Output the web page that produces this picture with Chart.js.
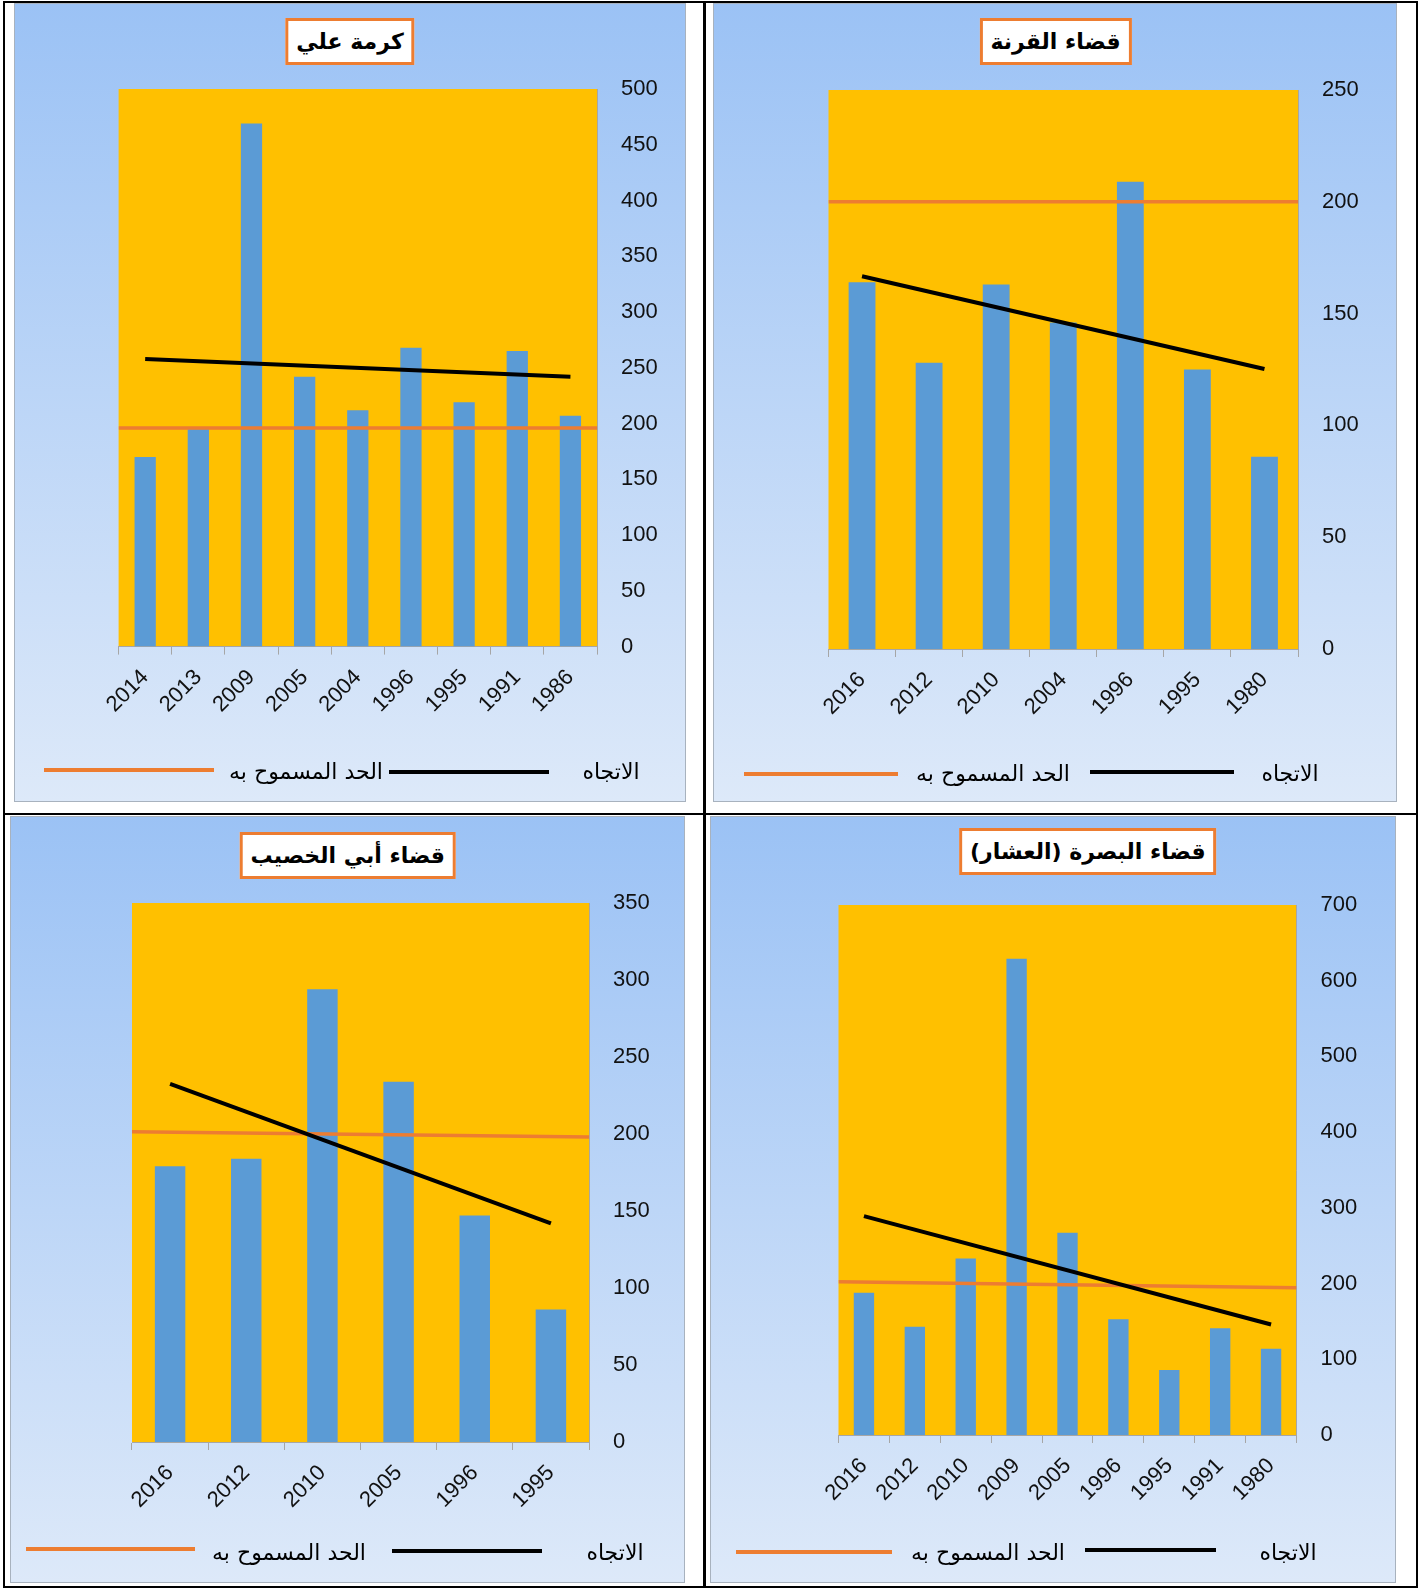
<!DOCTYPE html>
<html lang="ar">
<head>
<meta charset="utf-8">
<title>تراكيز الموقع حسب السنوات</title>
<script src="https://cdn.jsdelivr.net/npm/chart.js@4.4.1/dist/chart.umd.min.js"></script>
<style>
    html, body { margin: 0; padding: 0; background: #fff; }
    body { width: 1424px; height: 1589px; position: relative; overflow: hidden; }
    .rule { position: absolute; background: #000; }
    .panel {
        position: absolute;
        background: linear-gradient(180deg, #9bc2f5 0%, #dde9f9 100%);
        box-shadow: inset 0 0 0 1px #a8b2be;
    }
    .panel canvas { position: absolute; left: 0; top: 0; }
    .chart-title {
        position: absolute;
        box-sizing: border-box;
        height: 47px;
        padding: 0 8px;
        border: 3px solid #ed7d31;
        background: #fff;
        font: bold 22px 'DejaVu Sans', sans-serif;
        color: #000;
        display: flex;
        align-items: center;
        justify-content: center;
        white-space: nowrap;
        transform: translateX(-50%);
    }
    .key-line { position: absolute; height: 4px; }
    .key-text {
        position: absolute;
        font: 22px 'DejaVu Sans', sans-serif;
        color: #000;
        white-space: nowrap;
        transform: translate(-50%, -50%);
    }
</style>
</head>
<body>
<div class="rule" style="left:3px; top:1px; width:1415px; height:2px;"></div>
<div class="rule" style="left:3px; top:1586px; width:1415px; height:2px;"></div>
<div class="rule" style="left:3px; top:1px; width:2px; height:1587px;"></div>
<div class="rule" style="left:1416px; top:1px; width:2px; height:1587px;"></div>
<div class="rule" style="left:703px; top:1px; width:3px; height:1587px;"></div>
<div class="rule" style="left:3px; top:813px; width:1415px; height:2px;"></div>

<script>
// كرمة علي
const karmaYears = ['2014', '2013', '2009', '2005', '2004', '1996', '1995', '1991', '1986'];
const karmaValues = [170, 195, 469, 242, 212, 268, 219, 265, 207];
const karmaTrend = [258, 242];
const karmaLimit = [196, 196];
const karmaTicks = { max: 500, step: 50 };

// قضاء القرنة
const qurnaYears = ['2016', '2012', '2010', '2004', '1996', '1995', '1980'];
const qurnaValues = [164, 128, 163, 146, 209, 125, 86];
const qurnaTrend = [166.7, 125.2];
const qurnaLimit = [200, 200];
const qurnaTicks = { max: 250, step: 50 };

// قضاء أبي الخصيب
const khasibYears = ['2016', '2012', '2010', '2005', '1996', '1995'];
const khasibValues = [179, 184, 294, 234, 147, 86];
const khasibTrend = [232.5, 142];
const khasibLimit = [201.5, 198];
const khasibTicks = { max: 350, step: 50 };

// قضاء البصرة (العشار)
const basraYears = ['2016', '2012', '2010', '2009', '2005', '1996', '1995', '1991', '1980'];
const basraValues = [188, 143, 233, 629, 267, 153, 86, 141, 114];
const basraTrend = [289, 146];
const basraLimit = [202.5, 194.5];
const basraTicks = { max: 700, step: 100 };

const trendLabel = 'الاتجاه';
const limitLabel = 'الحد المسموح به';

const BAR_COLOR = '#5b9bd5';
const LIMIT_COLOR = '#ed7d31';
const PLOT_COLOR = '#ffc000';
const AXIS_COLOR = '#a6a6a6';
const tickFont = { family: "'Liberation Sans', Arial, sans-serif", size: 22 };

// box = panel [left, top, width, height]; plot = plot area inside the panel [left, top, right, bottom]
const panels = [
    {
        title: 'كرمة علي', years: karmaYears, values: karmaValues, trend: karmaTrend, limit: karmaLimit, ticks: karmaTicks,
        box: [14, 3, 672, 799], plot: [104.6, 86, 583, 643.6],
        titlePos: { x: 336, y: 15 },
        key: { limit: [30, 200, 767], limitText: 292, trend: [375, 535, 769], trendText: 597, textY: 768 }
    },
    {
        title: 'قضاء القرنة', years: qurnaYears, values: qurnaValues, trend: qurnaTrend, limit: qurnaLimit, ticks: qurnaTicks,
        box: [713, 3, 684, 799], plot: [115.5, 87, 585, 646],
        titlePos: { x: 342.5, y: 15 },
        key: { limit: [31, 185, 771], limitText: 280, trend: [377, 521, 769], trendText: 577, textY: 770 }
    },
    {
        title: 'قضاء أبي الخصيب', years: khasibYears, values: khasibValues, trend: khasibTrend, limit: khasibLimit, ticks: khasibTicks,
        box: [10, 816, 675, 767], plot: [122, 87, 579, 626],
        titlePos: { x: 337.7, y: 16 },
        key: { limit: [16, 185, 733], limitText: 279, trend: [382, 532, 735], trendText: 605, textY: 736 }
    },
    {
        title: 'قضاء البصرة (العشار)', years: basraYears, values: basraValues, trend: basraTrend, limit: basraLimit, ticks: basraTicks,
        box: [710, 816, 686, 767], plot: [128.5, 89, 586.5, 619],
        titlePos: { x: 377.8, y: 12 },
        key: { limit: [26, 182, 736], limitText: 278, trend: [375, 506, 734], trendText: 578, textY: 736 }
    }
];

// orange plot background behind the bars
const plotAreaFill = {
    id: 'plotAreaFill',
    beforeDraw(chart) {
        const { ctx, chartArea } = chart;
        ctx.save();
        ctx.fillStyle = PLOT_COLOR;
        ctx.fillRect(chartArea.left, chartArea.top, chartArea.width, chartArea.height);
        ctx.restore();
    }
};

const Y_AXIS_WIDTH = 80;
const X_AXIS_HEIGHT = 80;

function addKeyLine(panel, color, left, right, y) {
    const line = document.createElement('div');
    line.className = 'key-line';
    line.style.left = left + 'px';
    line.style.width = (right - left) + 'px';
    line.style.top = (y - 2) + 'px';
    line.style.background = color;
    panel.appendChild(line);
}

function addKeyText(panel, text, x, y) {
    const span = document.createElement('div');
    span.className = 'key-text';
    span.dir = 'rtl';
    span.textContent = text;
    span.style.left = x + 'px';
    span.style.top = y + 'px';
    panel.appendChild(span);
}

function createPanel(cfg) {
    const [left, top, width, height] = cfg.box;
    const panel = document.createElement('div');
    panel.className = 'panel';
    panel.style.left = left + 'px';
    panel.style.top = top + 'px';
    panel.style.width = width + 'px';
    panel.style.height = height + 'px';
    document.body.appendChild(panel);

    const canvas = document.createElement('canvas');
    canvas.width = width;
    canvas.height = height;
    panel.appendChild(canvas);

    const title = document.createElement('div');
    title.className = 'chart-title';
    title.dir = 'rtl';
    title.textContent = cfg.title;
    title.style.left = cfg.titlePos.x + 'px';
    title.style.top = cfg.titlePos.y + 'px';
    panel.appendChild(title);

    const k = cfg.key;
    addKeyLine(panel, LIMIT_COLOR, k.limit[0], k.limit[1], k.limit[2]);
    addKeyText(panel, limitLabel, k.limitText, k.textY);
    addKeyLine(panel, '#000', k.trend[0], k.trend[1], k.trend[2]);
    addKeyText(panel, trendLabel, k.trendText, k.textY);

    const [pl, pt, pr, pb] = cfg.plot;
    const first = cfg.years[0];
    const last = cfg.years[cfg.years.length - 1];

    new Chart(canvas.getContext('2d'), {
        type: 'bar',
        data: {
            labels: cfg.years,
            datasets: [
                {
                    type: 'line',
                    label: trendLabel,
                    data: [{ x: first, y: cfg.trend[0] }, { x: last, y: cfg.trend[1] }],
                    borderColor: '#000',
                    borderWidth: 4,
                    pointRadius: 0,
                    order: 0
                },
                {
                    type: 'line',
                    label: limitLabel,
                    xAxisID: 'xl',
                    data: [{ x: 0, y: cfg.limit[0] }, { x: 1, y: cfg.limit[1] }],
                    borderColor: LIMIT_COLOR,
                    borderWidth: 3.5,
                    pointRadius: 0,
                    order: 1
                },
                {
                    label: cfg.title,
                    data: cfg.values,
                    backgroundColor: BAR_COLOR,
                    grouped: false,
                    barPercentage: 0.4,
                    categoryPercentage: 1,
                    order: 2
                }
            ]
        },
        options: {
            responsive: false,
            animation: false,
            layout: {
                padding: {
                    left: pl,
                    top: pt,
                    right: width - pr - Y_AXIS_WIDTH,
                    bottom: height - pb - X_AXIS_HEIGHT
                }
            },
            plugins: {
                legend: { display: false },
                tooltip: { enabled: false }
            },
            scales: {
                x: {
                    offset: true,
                    grid: { offset: true, drawOnChartArea: false, drawTicks: true, tickLength: 8, color: AXIS_COLOR },
                    border: { display: true, color: AXIS_COLOR },
                    ticks: { minRotation: 45, maxRotation: 45, autoSkip: false, padding: 10, color: '#111', font: tickFont },
                    afterFit(scale) { scale.height = X_AXIS_HEIGHT; }
                },
                xl: { type: 'linear', display: false, offset: false, min: 0, max: 1 },
                y: {
                    position: 'right',
                    min: 0,
                    max: cfg.ticks.max,
                    grid: { display: false },
                    border: { display: true, color: AXIS_COLOR },
                    ticks: { stepSize: cfg.ticks.step, padding: 16, color: '#111', font: tickFont },
                    afterFit(scale) { scale.width = Y_AXIS_WIDTH; }
                }
            }
        },
        plugins: [plotAreaFill]
    });
}

panels.forEach(createPanel);
</script>
</body>
</html>
